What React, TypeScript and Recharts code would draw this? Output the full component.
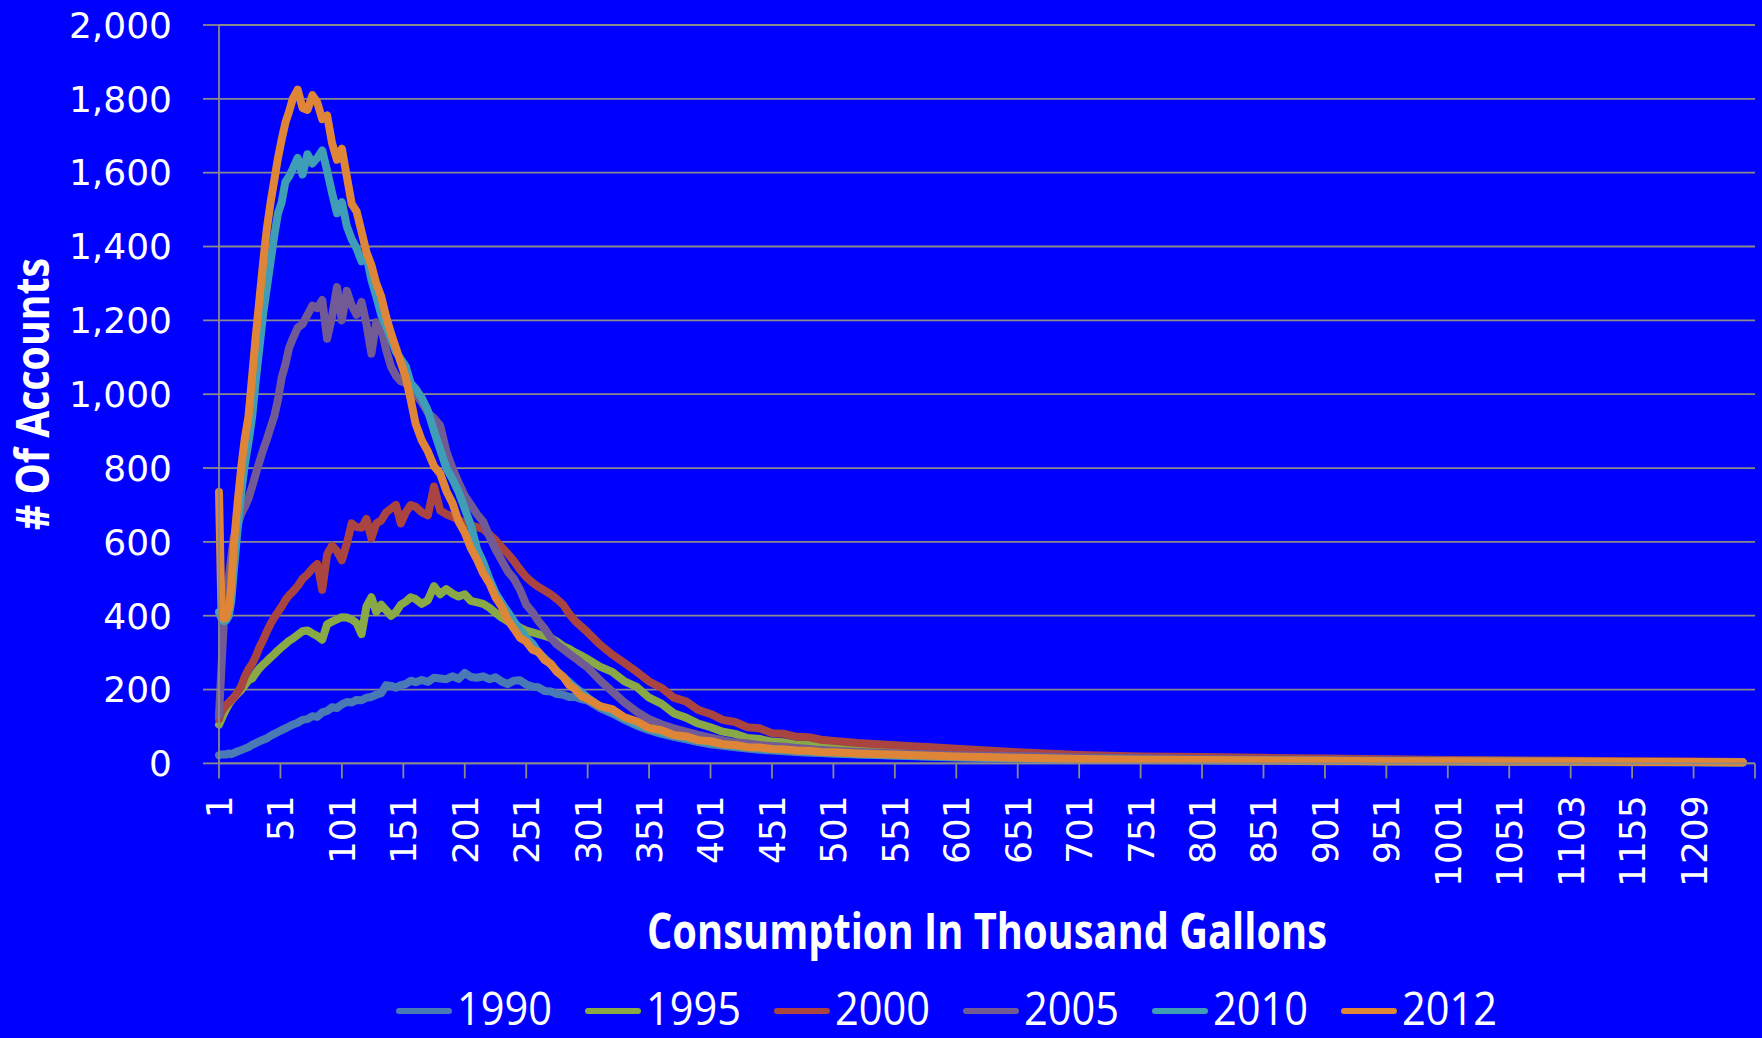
import React from "react";
import { LineChart, Line, XAxis, YAxis, CartesianGrid } from "recharts";

const idx = [
  0, 2, 4, 6, 8, 10, 12, 15, 18, 21, 24, 27, 30, 33, 36, 39, 42, 45, 48, 51, 54, 57, 60,
  64, 68, 72, 76, 80, 84, 88, 92, 96, 100, 104, 108, 112, 116, 120, 124, 128, 132, 136, 140, 144, 148, 152, 156, 160,
  165, 170, 175, 180, 185, 190, 195, 200, 205, 210, 215, 220, 225, 230, 235, 240, 245, 250, 255, 260, 265, 270, 275, 280, 285, 290, 295, 300,
  310, 320, 330, 340, 350, 360, 370, 380, 390, 400, 410, 420, 430, 440, 450, 460, 470, 480, 490, 500,
  520, 540, 560, 580, 600,
  650, 700, 750, 800, 850, 900, 950, 1000, 1050, 1100, 1150, 1200, 1240,
];

const s1990 = [
  22, 24, 25, 24, 27, 25, 28, 32, 36, 40, 44, 50, 55, 60, 64, 68, 75, 80, 85, 90, 95, 100, 105,
  110, 118, 120, 128, 126, 138, 142, 152, 150, 160, 166, 165, 172, 171, 178, 180, 186, 190, 212, 210, 205, 212, 215, 224, 220,
  226, 221, 232, 230, 228, 236, 229, 245, 234, 232, 236, 228, 233, 222, 215, 224, 225, 214, 208, 206, 196, 195, 188, 186, 180, 180, 174, 170,
  150, 135, 118, 102, 90, 80, 72, 65, 58, 52, 48, 44, 40, 37, 35, 33, 31, 29, 28, 26,
  24, 22, 20, 18, 16,
  13, 11, 9, 8, 7, 6, 5, 5, 4, 4, 3, 3, 2,
];

const s1995 = [
  105, 120, 135, 148, 160, 170, 178, 188, 198, 212, 225, 230, 245, 258, 268, 277, 287, 296, 306, 315, 323, 332, 338,
  348, 358, 360, 352, 345, 335, 377, 384, 390, 396, 395, 390, 380, 350, 425, 450, 410, 430, 415, 400, 410, 430, 438, 450, 445,
  432, 442, 480, 458, 472, 460, 452, 458, 440, 436, 432, 422, 408, 395, 385, 377, 368, 360, 355, 350, 345, 340, 330, 318, 310, 300, 292, 282,
  262, 248, 222, 207, 178, 162, 136, 124, 108, 98, 86, 80, 69, 66, 59, 57, 51, 50, 45, 44,
  40, 37, 33, 31, 29,
  24, 19, 16, 14, 12, 10, 9, 8, 7, 6, 5, 4, 3,
];

const s2000 = [
  120, 140, 150, 158, 165, 172, 178, 192, 208, 235, 255, 270, 290, 315, 335, 358, 378, 395, 410, 425, 442, 455, 465,
  480, 500, 512, 528, 540, 470, 566, 590, 575, 550, 595, 650, 640, 638, 662, 610, 650, 658, 680, 690, 700, 650, 680, 700, 695,
  680, 672, 750, 685, 675, 668, 660, 650, 645, 640, 635, 620, 605, 585, 568, 548, 525, 505, 490, 478, 468, 458, 445, 430, 405, 385, 370, 355,
  322, 295, 272, 248, 222, 205, 178, 168, 145, 134, 118, 112, 98, 95, 82, 80, 72, 71, 64, 61,
  55, 51, 47, 44, 40,
  30, 23, 19, 17, 15, 13, 11, 9, 8, 7, 6, 5, 4,
];

const s2005 = [
  130, 260, 386, 450, 503, 560, 611, 645, 675, 695, 718, 750, 785, 818, 850, 878, 910, 940, 985, 1045, 1080, 1125, 1150,
  1180, 1190, 1215, 1240, 1233, 1255, 1150, 1210, 1290, 1200, 1280, 1240, 1215, 1250, 1190, 1110, 1195, 1180, 1120, 1075, 1050, 1035, 1030, 1015, 1000,
  978, 950, 935, 915, 845, 800, 760, 725, 700, 675, 655, 615, 580, 550, 520, 500, 470, 430, 410, 385, 365, 340, 322, 310, 297, 285, 272, 260,
  225, 195, 165, 140, 120, 106, 95, 86, 77, 70, 63, 57, 54, 50, 47, 45, 42, 39, 36, 34,
  31, 28, 26, 24, 22,
  20, 16, 14, 12, 10, 9, 8, 7, 6, 5, 4, 4, 3,
];

const s2010 = [
  410, 392, 385, 388, 400, 440, 520, 630, 730, 810, 870, 940, 1040, 1130, 1220, 1290, 1360, 1430, 1490, 1520, 1575, 1590, 1610,
  1640, 1595, 1650, 1625, 1640, 1660, 1605, 1545, 1490, 1520, 1455, 1420, 1395, 1360, 1375, 1310, 1265, 1215, 1185, 1150, 1115, 1095, 1075, 1030, 1015,
  990, 955, 900, 850, 800, 770, 735, 690, 645, 580, 545, 500, 462, 435, 410, 385, 362, 340, 325, 300, 285, 268, 250, 235, 220, 205, 192, 178,
  155, 140, 122, 106, 94, 84, 76, 69, 62, 56, 51, 47, 44, 40, 38, 36, 34, 32, 30, 28,
  25, 23, 21, 19, 17,
  14, 12, 10, 9, 8, 7, 6, 5, 5, 4, 4, 3, 3,
];

const s2012 = [
  735, 410, 392, 395, 420, 480, 590, 700, 800, 880, 940, 1050, 1160, 1260, 1360, 1450, 1520, 1580, 1640, 1690, 1735, 1765, 1800,
  1825, 1775, 1770, 1810, 1790, 1745, 1755, 1680, 1635, 1665, 1590, 1515, 1495, 1440, 1385, 1350, 1300, 1265, 1210, 1165, 1125, 1085, 1045, 985, 920,
  875, 845, 805, 785, 738, 705, 655, 625, 583, 552, 515, 488, 450, 425, 388, 365, 340, 330, 308, 302, 280, 270, 248, 235, 212, 200, 182, 175,
  155, 147, 125, 114, 96, 90, 77, 73, 63, 60, 52, 50, 44, 43, 39, 38, 35, 34, 31, 30,
  27, 25, 23, 21, 19,
  15, 12, 10, 9, 8, 7, 6, 6, 5, 5, 4, 4, 3,
];

const years = ["1990", "1995", "2000", "2005", "2010", "2012"];
const colors = ["#4a7ab5", "#89a846", "#a94440", "#725b95", "#3f9db6", "#de8538"];
const seriesValues = [s1990, s1995, s2000, s2005, s2010, s2012];

const tickIdx = [
  0, 50, 100, 150, 200, 250, 300, 350, 400, 450, 500, 550, 600, 650, 700, 750, 800, 850, 900, 950, 1000, 1050, 1100, 1150, 1200, 1250,
];
const tickLabels = [
  "1", "51", "101", "151", "201", "251", "301", "351", "401", "451", "501", "551", "601", "651", "701", "751", "801", "851", "901", "951", "1001", "1051", "1103", "1155", "1209", "",
];
const yTicks = [0, 200, 400, 600, 800, 1000, 1200, 1400, 1600, 1800, 2000];

const rows = idx.map((i, k) => {
  const r: any = { i };
  years.forEach((y, j) => {
    r[y] = seriesValues[j][k];
  });
  return r;
});

const gray = "#8a8a8a";
const bg = "#0000ff";

function XTick({ x, y, payload }: any) {
  const label = tickLabels[tickIdx.indexOf(payload.value)] ?? "";
  return (
    <text
      x={0}
      y={0}
      transform={`translate(${x},${y}) rotate(-90)`}
      textAnchor="end"
      dy="0.36em"
      fill="#fff"
      fontSize={36}
      fontFamily="'DejaVu Sans', Verdana, sans-serif"
    >
      {label}
    </text>
  );
}

export default function App() {
  return (
    <div style={{ position: "absolute", left: 0, top: 0, width: 1762, height: 1038, background: bg, overflow: "hidden" }}>
      <LineChart width={1762} height={1038} data={rows} margin={{ top: 25, right: 7, bottom: 0, left: 0 }}>
        <CartesianGrid vertical={false} stroke={gray} strokeWidth={1.8} />
        <XAxis
          type="number"
          dataKey="i"
          domain={[0, 1250]}
          ticks={tickIdx}
          interval={0}
          height={274.6}
          tickSize={15}
          tickMargin={17}
          tick={<XTick />}
          axisLine={{ stroke: gray, strokeWidth: 1.8 }}
          tickLine={{ stroke: gray, strokeWidth: 1.8 }}
        />
        <YAxis
          type="number"
          domain={[0, 2000]}
          ticks={yTicks}
          interval={0}
          width={219}
          tickSize={16}
          tickMargin={31}
          tick={{ fill: "#fff", fontSize: 36, fontFamily: "'DejaVu Sans', Verdana, sans-serif" }}
          tickFormatter={(v: number) => v.toLocaleString("en-US")}
          axisLine={{ stroke: gray, strokeWidth: 1.8 }}
          tickLine={{ stroke: gray, strokeWidth: 1.8 }}
        />
        {years.map((y, j) => (
          <Line
            key={y}
            type="linear"
            dataKey={y}
            stroke={colors[j]}
            strokeWidth={8}
            strokeLinejoin="round"
            strokeLinecap="round"
            dot={false}
            activeDot={false}
            isAnimationActive={false}
          />
        ))}
      </LineChart>

      <svg width={1762} height={1038} style={{ position: "absolute", left: 0, top: 0, pointerEvents: "none" }}>
        <text
          x={0}
          y={0}
          transform="translate(49,394) rotate(-90)"
          textAnchor="middle"
          fill="#fff"
          fontSize={46}
          fontWeight="bold"
          fontFamily="'Open Sans', sans-serif"
          textLength={272}
          lengthAdjust="spacingAndGlyphs"
        >
          # Of Accounts
        </text>
        <text
          x={987}
          y={949}
          textAnchor="middle"
          fill="#fff"
          fontSize={50}
          fontWeight="bold"
          fontFamily="'Open Sans', sans-serif"
          textLength={680}
          lengthAdjust="spacingAndGlyphs"
        >
          Consumption In Thousand Gallons
        </text>
        {years.map((y, j) => {
          const x0 = 396 + j * 189;
          return (
            <g key={y}>
              <line x1={x0 + 3} y1={1011} x2={x0 + 53} y2={1011} stroke={colors[j]} strokeWidth={6} strokeLinecap="round" />
              <text
                x={x0 + 61}
                y={1025}
                fill="#fff"
                fontSize={46}
                fontFamily="'Liberation Sans Narrow', 'Open Sans', sans-serif"
                textLength={95}
                lengthAdjust="spacingAndGlyphs"
              >
                {y}
              </text>
            </g>
          );
        })}
      </svg>
    </div>
  );
}
